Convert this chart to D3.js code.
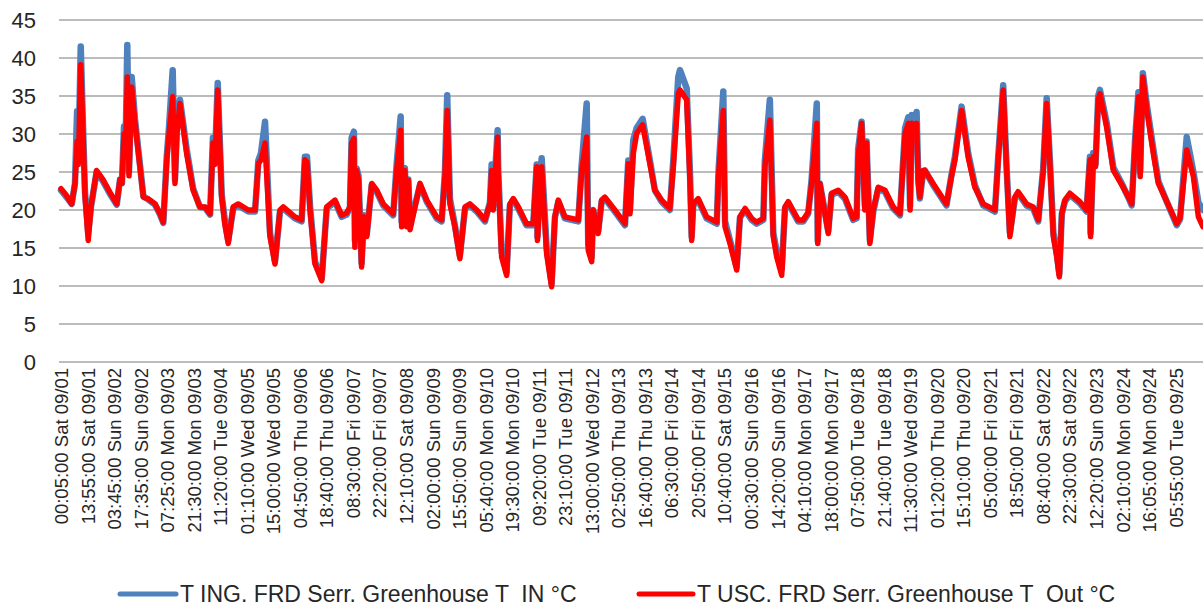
<!DOCTYPE html>
<html><head><meta charset="utf-8">
<script src="https://cdn.jsdelivr.net/npm/d3@7"></script>
<style>body{margin:0;background:#fff;} text{font-family:"Liberation Sans",Arial,sans-serif;fill:#262626;}</style>
</head><body><svg id="c" width="1203" height="607"></svg>
<script>
const tickLabels = ["00:05:00 Sat 09/01","13:55:00 Sat 09/01","03:45:00 Sun 09/02","17:35:00 Sun 09/02","07:25:00 Mon 09/03","21:30:00 Mon 09/03","11:20:00 Tue 09/04","01:10:00 Wed 09/05","15:00:00 Wed 09/05","04:50:00 Thu 09/06","18:40:00 Thu 09/06","08:30:00 Fri 09/07","22:20:00 Fri 09/07","12:10:00 Sat 09/08","02:00:00 Sun 09/09","15:50:00 Sun 09/09","05:40:00 Mon 09/10","19:30:00 Mon 09/10","09:20:00 Tue 09/11","23:10:00 Tue 09/11","13:00:00 Wed 09/12","02:50:00 Thu 09/13","16:40:00 Thu 09/13","06:30:00 Fri 09/14","20:50:00 Fri 09/14","10:40:00 Sat 09/15","00:30:00 Sun 09/16","14:20:00 Sun 09/16","04:10:00 Mon 09/17","18:00:00 Mon 09/17","07:50:00 Tue 09/18","21:40:00 Tue 09/18","11:30:00 Wed 09/19","01:20:00 Thu 09/20","15:10:00 Thu 09/20","05:00:00 Fri 09/21","18:50:00 Fri 09/21","08:40:00 Sat 09/22","22:30:00 Sat 09/22","12:20:00 Sun 09/23","02:10:00 Mon 09/24","16:05:00 Mon 09/24","05:55:00 Tue 09/25"];
const labelStepHours = 13.853;
const yTicks = [0,5,10,15,20,25,30,35,40,45];
const seriesNames = ["T ING. FRD Serr. Greenhouse T  IN °C","T USC. FRD Serr. Greenhouse T  Out °C"];
// hours since 00:05 Sat 09/01
const hours = [0,2.6,5.6,7.3,8.4,9.1,10.3,11.5,12.5,14.2,15.7,18.6,21.9,25.6,29.1,30.8,31.8,32.9,33.7,34.6,35.5,36.9,38.6,41.2,43.0,45.4,49.1,51.7,53.4,55.2,
56.4,58.3,59.5,60.5,62.1,65.6,69.0,72.5,75.2,77.8,79.3,80.4,81.8,83.9,85.6,87.3,89.9,92.5,97.8,101.3,103.0,104.4,106.5,109.1,111.7,114.3,116.0,122.1,125.6,127.3,
128.4,130.0,132.6,136.1,138.7,143.0,146.5,149.1,150.8,151.7,152.9,153.4,154.3,155.3,156.9,158.1,159.6,162.2,164.8,168.2,173.4,175.2,177.3,177.8,179.5,180.4,181.3,182.2,187.4,190.9,
196.1,198.7,200.4,201.6,203.0,205.6,208.2,210.9,213.5,217.0,221.3,223.9,224.8,225.6,227.9,228.2,230.0,232.6,234.3,236.1,238.7,243.0,246.5,248.3,248.7,250.9,253.5,256.1,257.8,259.6,
263.0,270.0,271.8,274.4,275.2,277.0,277.8,280.4,282.2,283.9,289.1,294.4,296.1,297.0,298.7,300.5,303.6,307.4,310.0,313.5,317.8,319.6,322.2,323.1,326.6,328.3,329.2,330.0,332.6,337.0,
342.3,343.2,345.7,346.6,349.2,352.7,354.4,357.1,360.5,363.1,366.6,367.4,370.0,371.8,373.6,376.2,377.9,379.6,384.8,387.4,390.0,391.8,394.5,395.0,396.1,400.5,402.2,405.7,409.2,413.5,
415.3,416.1,417.9,419.6,420.5,422.2,424.0,426.6,430.1,434.4,437.9,440.6,442.3,443.2,444.1,445.7,446.6,447.5,448.3,450.0,450.9,455.2,462.2,464.8,466.6,470.1,473.5,477.0,481.4,487.5,
489.2,491.8,493.6,495.3,497.9,499.6,504.0,507.5,510.1,512.7,514.5,516.2,518.0,519.8,521.1,522.4,524.0,526.6,531.8,535.3,537.1,537.4,538.8,540.0,541.4,542.3,545.8,549.3,553.7,557.2,
558.9,560.7,562.4,563.3,564.7,566.8,570.2,572.8,577.2,582.4,584.1,587.6,591.1,593.7,596.1];
const tOut = [22.8,22.0,20.8,23.5,29,26,39.1,30,22,16,20.5,25.2,24,22.3,20.8,24,23.5,30,27,37.5,24.5,36.2,31.5,25.7,21.7,21.5,20.8,19.5,18.4,26.6,
30,34.9,23.5,30,34,27.4,22.6,20.4,20.4,19.5,28.8,26,35.8,21.7,18,15.6,20.4,20.8,20.0,20.0,26.1,26.6,28.8,16.5,12.9,20.0,20.4,19.1,18.7,26.6,
26.3,20,12.9,10.7,20.4,21.3,19.3,19.6,20.4,28.8,29.4,15.1,25.2,24,12.5,19.1,16.5,23.5,22.6,20.8,19.5,25.2,30.5,17.8,25.2,17.8,23.9,17.4,23.5,21.3,
19.1,18.7,24.4,33.1,20.8,17.8,13.6,20.4,20.8,20.0,18.7,20.8,25.2,20,29.6,24.8,13.8,11.4,20.8,21.5,20.4,18.2,18.2,25.7,16,25.7,14.2,9.9,19.1,21.3,
19.1,18.7,25.2,29.6,14.7,13.2,20,16.9,21.3,21.7,20,18.2,26.1,19.5,27.4,30.1,31.2,26.1,22.6,21.3,20.2,25.7,35.3,35.8,34.5,24,16,20.8,21.5,19.1,
18.4,24.4,33.1,17.8,15.6,12.1,19.1,20.2,18.9,18.4,18.9,25.7,31.8,16.5,13.8,11.4,20.4,21.1,18.7,18.7,19.7,23.5,31.4,15.6,23.5,16.9,22.2,22.6,21.7,18.9,
19.1,27,31.4,20,28.8,15.6,20,23,22.6,20.4,19.5,30.1,31.4,20,31.4,30,31.4,23.5,21.7,25.2,25.2,23.5,20.8,24.4,26.6,33.1,27,23,20.8,20,
26.6,35.8,25.2,16.5,21.7,22.4,20.8,20.4,18.7,25.2,34,26,16.5,13.8,11.2,19.5,21.3,22.2,21.1,20,26.6,16.5,27,25.7,34.5,35.3,30.9,25.2,23.3,21.7,
20.8,28.8,34.9,24.4,37.5,33.1,27.4,23.5,21.1,18.2,18.9,27.9,24.4,19.1,17.8];
const tIn = [22.6,21.8,20.8,23.5,33,27,41.5,31,22.5,17,20.5,25.0,23.8,22.1,20.7,24,23.5,31,28,41.7,25,37.5,32,26,21.8,21.4,20.7,19.4,18.3,27,
31,38.4,24,31,34.5,28,22.8,20.4,20.3,19.4,29.5,27,36.7,22,18.5,16,20.2,20.6,19.8,19.8,26.5,27.5,31.6,17,13.2,19.8,20.2,18.9,18.5,27,
27,20.5,13.2,11,20.2,21.1,19.1,19.4,20.3,29.5,30.3,16,25.5,24.5,13,19.3,16.8,23.3,22.4,20.6,19.3,26,32.3,18.5,25.5,18.5,24,18,23.3,21.1,
18.9,18.5,25,35.1,21.5,18,14,20.2,20.6,19.8,18.5,21,26,20.5,30.5,25.5,14.5,11.8,20.6,21.3,20.2,18,18,26,16.5,26.8,15,10.3,19,21.1,
18.9,18.5,26,34,15.5,13.8,20,17.2,21.1,21.5,19.8,18,26.5,20,29.2,30.8,32,26.5,22.6,21.1,20,26.5,37.5,38.4,36,25,16.5,20.6,21.3,18.9,
18.2,25,35.6,18.5,16,12.5,19,20,18.7,18.2,18.7,26.5,34.5,17,14.5,12.2,20.2,20.9,18.5,18.5,19.5,24,34,16,23.5,17.2,22,22.4,21.5,18.7,
18.9,28,31.6,20.5,29,16,19.8,22.8,22.4,20.2,19.3,30.8,32.2,20.5,32.5,30.5,32.9,24,21.5,25,25.2,23.3,20.6,24.6,27,33.6,27.5,23.3,20.6,19.8,
27,36.4,25.5,17,21.5,22.2,20.6,20.2,18.5,25.5,34.7,26.5,17,14.2,11.6,19.5,21.1,22,20.9,19.8,27,17,27.5,26,35,35.8,31.5,25.6,23.5,21.6,
20.6,29.5,35.5,25,38,33.8,28,23.8,21.1,18,18.8,29.6,25,21,20];

const W = 1203, H = 607;
const svg = d3.select("#c");
const x = d3.scaleLinear().domain([0, 596.1]).range([61, 1203]);
const y = d3.scaleLinear().domain([0, 45]).range([362, 20]);

// gridlines
svg.append("g").selectAll("line").data(yTicks).join("line")
  .attr("x1", 59).attr("x2", W).attr("y1", d => y(d)).attr("y2", d => y(d))
  .attr("stroke", "#a6a6a6").attr("stroke-width", 1.3);

// y labels
const yAxis = d3.axisLeft(y).tickValues(yTicks).tickSize(0).tickPadding(0);
const gy = svg.append("g").attr("transform", "translate(36,0)").call(yAxis);
gy.select(".domain").remove();
gy.selectAll("text").attr("font-size", 22).attr("fill", "#262626").attr("font-family", "Liberation Sans, Arial, sans-serif");

// x labels
const tickHours = tickLabels.map((d, i) => i * labelStepHours);
const xAxis = d3.axisBottom(x).tickValues(tickHours).tickFormat((d, i) => tickLabels[i]).tickSize(0);
const gx = svg.append("g").attr("transform", "translate(0,362)").call(xAxis);
gx.select(".domain").remove();
gx.selectAll("text")
  .attr("font-size", 18.5).attr("fill", "#262626").attr("font-family", "Liberation Sans, Arial, sans-serif")
  .attr("text-anchor", "end").attr("transform", "rotate(-90)")
  .attr("x", -6).attr("y", 0).attr("dy", "0.35em");

// lines
const line = vals => d3.line().x((d, i) => x(hours[i])).y(d => y(d))(vals);
svg.append("path").attr("d", line(tIn)).attr("fill", "none")
  .attr("stroke", "#4f81bd").attr("stroke-width", 6.5).attr("stroke-linejoin", "round").attr("stroke-linecap", "round");
svg.append("path").attr("d", line(tOut)).attr("fill", "none")
  .attr("stroke", "#ff0000").attr("stroke-width", 5.5).attr("stroke-linejoin", "round").attr("stroke-linecap", "round");

// legend
const legend = [{name: seriesNames[0], color: "#4f81bd", x1: 120, x2: 176, tx: 180},
                {name: seriesNames[1], color: "#ff0000", x1: 639, x2: 693, tx: 697}];
const lg = svg.append("g");
lg.selectAll("line").data(legend).join("line")
  .attr("x1", d => d.x1).attr("x2", d => d.x2).attr("y1", 594).attr("y2", 594)
  .attr("stroke", d => d.color).attr("stroke-width", 5).attr("stroke-linecap", "round");
lg.selectAll("text").data(legend).join("text")
  .attr("x", d => d.tx).attr("y", 594).attr("dy", "0.35em")
  .style("white-space", "pre")
  .attr("font-size", 23).text(d => d.name);
</script></body></html>
